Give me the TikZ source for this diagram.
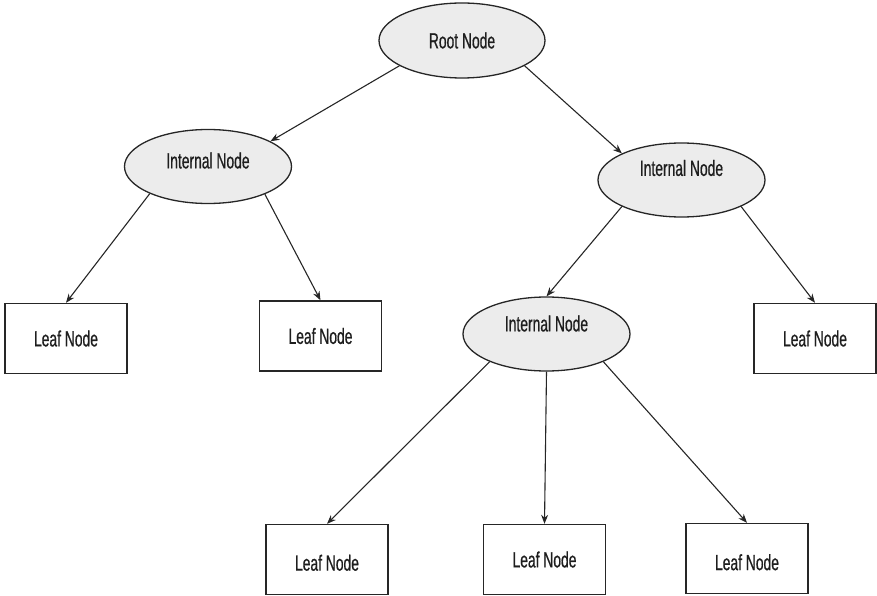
\documentclass[tikz,border=0pt]{standalone}
\usepackage{fontspec}
\setmainfont[FakeStretch=0.63,FakeBold=0.6]{Liberation Sans}
\usetikzlibrary{shapes.geometric,arrows.meta}

\definecolor{inkline}{HTML}{262626}
\definecolor{nodefill}{HTML}{ECECEC}
\definecolor{textink}{HTML}{1E1E1E}

\tikzset{
  treenode/.style={inner sep=0pt, text=textink,
    font=\fontsize{22}{26}\selectfont},
  inner/.style={treenode, ellipse, draw=inkline, line width=1.3pt,
    fill=nodefill, minimum width=167pt, minimum height=74pt},
  leaf/.style={treenode, rectangle, draw=inkline, line width=1.4pt,
    fill=white, minimum width=122pt, minimum height=70pt},
  % lifts the label by #1 pt above the middle of its node
  lift/.style={text height=18.8pt-#1pt, text depth=3pt+#1pt},
  edge/.style={draw=inkline, line width=1.1pt,
    -{Stealth[length=9pt,width=7pt]}}
}

\begin{document}
\begin{tikzpicture}[x=1pt,y=-1pt]
  \useasboundingbox (0,0) rectangle (877,596);

  % ellipses: root and internal nodes
  \node[inner, lift=0, minimum width=166pt, minimum height=75pt]
       (root) at (462,40.5) {Root Node};
  \node[inner, lift=6]    (intL) at (208,166.5) {Internal Node};
  \node[inner, lift=12]   (intR) at (681.5,180) {Internal Node};
  \node[inner, lift=10.5] (intM) at (546.5,334) {Internal Node};

  % rectangles: leaves
  \node[leaf, lift=0]    (leafA) at (66,338.5)   {Leaf Node};
  \node[leaf, lift=0]    (leafB) at (320.5,336)  {Leaf Node};
  \node[leaf, lift=0]    (leafC) at (815,338.5)  {Leaf Node};
  \node[leaf, lift=-3.5] (leafD) at (327,559.5)  {Leaf Node};
  \node[leaf, lift=0]    (leafE) at (544.5,559.5){Leaf Node};
  \node[leaf, lift=-4.5] (leafF) at (747,558.5)  {Leaf Node};

  % connectors
  \draw[edge] (root.202) -- (intL.22);
  \draw[edge] (root.338) -- (intR.156);
  \draw[edge] (intL.205) -- (leafA.north);
  \draw[edge] (intL.334) -- (leafB.north);
  \draw[edge] (intR.204) -- (intM.north);
  \draw[edge] (intR.336) -- (leafC.north);
  \draw[edge] (intM.206) -- (leafD.north);
  \draw[edge] (intM.south) -- (leafE.north);
  \draw[edge] (intM.334) -- (leafF.north);
\end{tikzpicture}
\end{document}
